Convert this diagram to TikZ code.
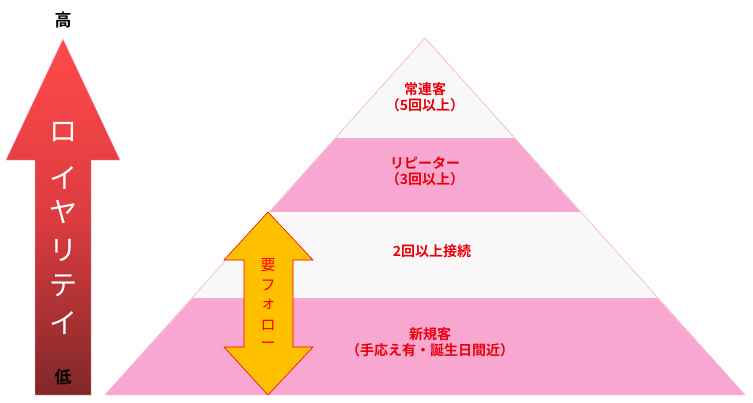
\documentclass[tikz,border=0pt]{standalone}
\usepackage{fontspec}
\newfontfamily\cjk{Noto Sans CJK JP}
\newfontfamily\cjkb{Noto Sans CJK JP Bold}
\definecolor{pk}{HTML}{F8A8D0}
\definecolor{wh}{HTML}{F8F8F8}
\definecolor{rd}{HTML}{E8000A}
\definecolor{org}{HTML}{FFC000}
\begin{document}
\begin{tikzpicture}[x=1pt,y=-1pt,
  lab/.style={font=\cjkb\fontsize{14}{16}\selectfont, text=rd, align=center},
  vt/.style={font=\cjk\fontsize{28}{28}\selectfont, text=white}]
\useasboundingbox (0,0) rectangle (753,402);
% pyramid bands
\fill[wh] (425,38) -- (336,138) -- (514,138) -- cycle;
\fill[pk] (336,138) -- (514,138) -- (580,212) -- (270,212) -- cycle;
\fill[wh] (270,212) -- (580,212) -- (657,298) -- (193,298) -- cycle;
\fill[pk] (193,298) -- (657,298) -- (745,395) -- (105,395) -- cycle;
\draw[pk, line width=0.6pt] (425,38) -- (105,395) (425,38) -- (745,395);
\node[lab] (t1) at (425,97) {常連客\\（5回以上）};
\node[lab] (t2) at (425,171) {リピーター\\（3回以上）};
\node[lab] (t3) at (432,251) {2回以上接続};
\node[lab] (t4) at (430,342) {新規客\\（手応え有・誕生日間近）};
% loyalty arrow
\shade[top color={rgb,255:red,255;green,74;blue,74}, bottom color={rgb,255:red,128;green,40;blue,40}, middle color={rgb,255:red,220;green,60;blue,64}, draw=pk]
  (63,39) -- (120,160) -- (91,160) -- (91,395) -- (35,395) -- (35,160) -- (6,160) -- cycle;
\node[font=\cjkb\fontsize{17}{17}\selectfont] (hi) at (63,20) {高};
\node[font=\cjkb\fontsize{17}{17}\selectfont] (lo) at (63,377) {低};
\foreach \c/\y in {ロ/132,イ/178,ヤ/212,リ/250,テ/286,イ/323}
  \node[vt] at (63,\y) {\c};
% follow-up arrow
\fill[org, draw=red, line width=0.6pt]
  (268,212) -- (313,260) -- (293,260) -- (293,347) -- (313,347) -- (268,395) -- (224,347) -- (244,347) -- (244,260) -- (224,260) -- cycle;
\foreach \c/\y in {要/265,フ/285,ォ/304,ロ/325,ー/345}
  \node[font=\cjk\fontsize{15}{15}\selectfont, text=red] at (268,\y) {\c};
\end{tikzpicture}
\end{document}
